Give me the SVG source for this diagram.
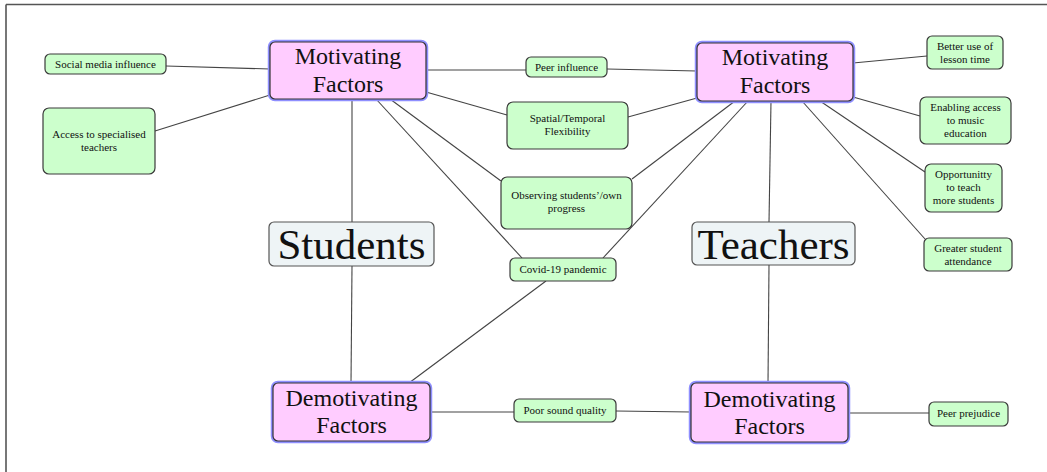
<svg xmlns="http://www.w3.org/2000/svg" width="1047" height="472" viewBox="0 0 1047 472">
<style>
text{font-family:"Liberation Serif","Times New Roman",serif;fill:#111;text-anchor:middle}
.s{font-size:11px}
.m{font-size:24px}
.b{font-size:43px}
.g{fill:#ccffcc;stroke:#3a3a3a;stroke-width:1.2}
.glow{fill:none;stroke:#8f8fff;stroke-width:4.5}
.p{fill:#ffccff;stroke:#333;stroke-width:1.2}
.c{fill:#eef4f6;stroke:#555;stroke-width:1.2}
#connectors line{stroke:#444;stroke-width:1.1}
</style>
<g id="frame" stroke="#555" stroke-width="1.6" fill="none">
<line x1="6" y1="4.5" x2="1047" y2="4.5"/>
<line x1="6" y1="4.5" x2="6" y2="472"/>
</g>
<g id="connectors">
<line x1="166" y1="66" x2="270" y2="69"/>
<line x1="155" y1="131" x2="270" y2="95"/>
<line x1="426" y1="70" x2="526" y2="70"/>
<line x1="607" y1="69" x2="697" y2="71"/>
<line x1="426" y1="92" x2="507" y2="115"/>
<line x1="628" y1="117" x2="697" y2="98"/>
<line x1="390" y1="99" x2="501" y2="181"/>
<line x1="376" y1="99" x2="522" y2="258"/>
<line x1="352" y1="99" x2="352" y2="222"/>
<line x1="632" y1="179" x2="735" y2="101"/>
<line x1="603" y1="258" x2="748" y2="101"/>
<line x1="771" y1="101" x2="769" y2="222"/>
<line x1="853" y1="63" x2="927" y2="56"/>
<line x1="853" y1="97" x2="920" y2="116"/>
<line x1="820" y1="101" x2="925" y2="172"/>
<line x1="802" y1="101" x2="925" y2="239"/>
<line x1="352" y1="266" x2="351" y2="383"/>
<line x1="546" y1="281" x2="409" y2="383"/>
<line x1="430" y1="412" x2="514" y2="412"/>
<line x1="616" y1="411" x2="691" y2="412"/>
<line x1="769" y1="265" x2="768" y2="383"/>
<line x1="848" y1="413" x2="929" y2="413"/>
</g>
<g id="social-media">
<rect class="g" x="45" y="54" width="121" height="20" rx="5"/>
<text class="s" x="105.5" y="68">Social media influence</text>
</g>
<g id="access-teachers">
<rect class="g" x="43" y="108" width="112" height="66" rx="6"/>
<text class="s" x="99" y="138">Access to specialised</text>
<text class="s" x="99" y="151">teachers</text>
</g>
<g id="motivating-students">
<rect class="glow" x="270" y="42" width="156" height="57" rx="5"/>
<rect class="p" x="270" y="42" width="156" height="57" rx="5"/>
<text class="m" x="348" y="64">Motivating</text>
<text class="m" x="348" y="92">Factors</text>
</g>
<g id="peer-influence">
<rect class="g" x="526" y="57" width="81" height="20" rx="5"/>
<text class="s" x="566.5" y="71">Peer influence</text>
</g>
<g id="spatial">
<rect class="g" x="507" y="102" width="121" height="47" rx="6"/>
<text class="s" x="567.5" y="122">Spatial/Temporal</text>
<text class="s" x="567.5" y="135">Flexibility</text>
</g>
<g id="observing">
<rect class="g" x="501" y="177" width="131" height="52" rx="6"/>
<text class="s" x="566.5" y="199">Observing students’/own</text>
<text class="s" x="566.5" y="212">progress</text>
</g>
<g id="motivating-teachers">
<rect class="glow" x="697" y="43" width="156" height="58" rx="5"/>
<rect class="p" x="697" y="43" width="156" height="58" rx="5"/>
<text class="m" x="775" y="65">Motivating</text>
<text class="m" x="775" y="93">Factors</text>
</g>
<g id="better-use">
<rect class="g" x="927" y="36" width="76" height="33" rx="5"/>
<text class="s" x="965" y="50">Better use of</text>
<text class="s" x="965" y="63">lesson time</text>
</g>
<g id="enabling">
<rect class="g" x="920" y="97" width="91" height="47" rx="6"/>
<text class="s" x="965.5" y="111">Enabling access</text>
<text class="s" x="965.5" y="124">to music</text>
<text class="s" x="965.5" y="137">education</text>
</g>
<g id="opportunity">
<rect class="g" x="925" y="164" width="77" height="48" rx="6"/>
<text class="s" x="963.5" y="178">Opportunitty</text>
<text class="s" x="963.5" y="191">to teach</text>
<text class="s" x="963.5" y="204">more students</text>
</g>
<g id="greater-attendance">
<rect class="g" x="924" y="238" width="88" height="33" rx="5"/>
<text class="s" x="968" y="252">Greater student</text>
<text class="s" x="968" y="265">attendance</text>
</g>
<g id="students">
<rect class="c" x="269" y="222" width="165" height="44" rx="5"/>
<text class="b" x="351.5" y="259">Students</text>
</g>
<g id="teachers">
<rect class="c" x="692" y="222" width="163" height="43" rx="5"/>
<text class="b" x="773.5" y="259">Teachers</text>
</g>
<g id="covid">
<rect class="g" x="510" y="258" width="106" height="23" rx="5"/>
<text class="s" x="563" y="273">Covid-19 pandemic</text>
</g>
<g id="demotivating-students">
<rect class="glow" x="273" y="383" width="157" height="58" rx="5"/>
<rect class="p" x="273" y="383" width="157" height="58" rx="5"/>
<text class="m" x="351.5" y="406">Demotivating</text>
<text class="m" x="351.5" y="433">Factors</text>
</g>
<g id="poor-sound">
<rect class="g" x="514" y="399" width="102" height="23" rx="5"/>
<text class="s" x="565" y="414">Poor sound quality</text>
</g>
<g id="demotivating-teachers">
<rect class="glow" x="691" y="383" width="157" height="59" rx="5"/>
<rect class="p" x="691" y="383" width="157" height="59" rx="5"/>
<text class="m" x="769.5" y="407">Demotivating</text>
<text class="m" x="769.5" y="434">Factors</text>
</g>
<g id="peer-prejudice">
<rect class="g" x="929" y="402" width="79" height="24" rx="5"/>
<text class="s" x="968.5" y="417">Peer prejudice</text>
</g>
</svg>
